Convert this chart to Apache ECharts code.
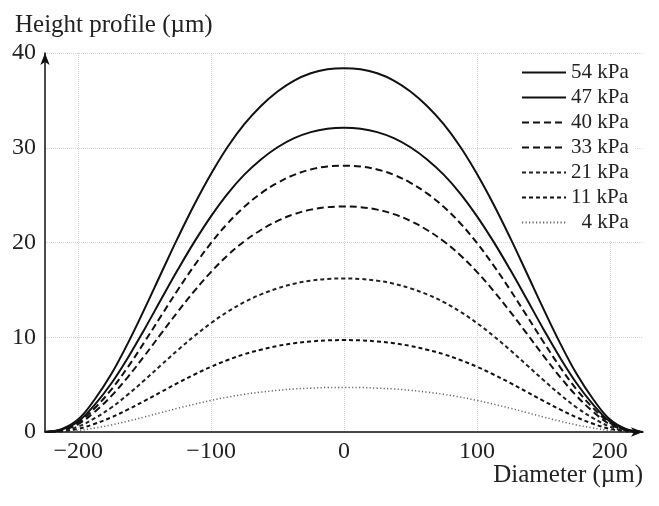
<!DOCTYPE html>
<html>
<head>
<meta charset="utf-8">
<script src="https://cdn.jsdelivr.net/npm/echarts@6/dist/echarts.min.js"></script>
<style>html,body{margin:0;padding:0;background:#fff}#c{width:659px;height:506px}</style>
</head>
<body>
<div id="c"></div>
<script>
const xs = [-225,-212.5,-200,-187.5,-175,-162.5,-150,-137.5,-125,-112.5,-100,-87.5,-75,-62.5,-50,-37.5,-25,-12.5,0,12.5,25,37.5,50,62.5,75,87.5,100,112.5,125,137.5,150,162.5,175,187.5,200,212.5,225];
const seriesNames = ['54 kPa','47 kPa','40 kPa','33 kPa','21 kPa','11 kPa','4 kPa'];
const h54 = [0,0.31,1.34,3.46,6.14,9.41,13.02,16.78,20.51,24.04,27.26,30.11,32.49,34.41,35.94,37.09,37.86,38.28,38.4,38.28,37.86,37.09,35.94,34.41,32.49,30.11,27.26,24.04,20.51,16.78,13.02,9.41,6.14,3.46,1.34,0.31,0];
const h47 = [0,0.26,1.12,2.89,5.14,7.86,10.88,14.03,17.14,20.09,22.79,25.17,27.16,28.76,30.05,31.01,31.65,32.00,32.1,32.00,31.65,31.01,30.05,28.76,27.16,25.17,22.79,20.09,17.14,14.03,10.88,7.86,5.14,2.89,1.12,0.26,0];
const h40 = [0,0.22,0.98,2.53,4.50,6.88,9.53,12.28,15.01,17.59,19.95,22.03,23.77,25.18,26.30,27.14,27.71,28.02,28.1,28.02,27.71,27.14,26.30,25.18,23.77,22.03,19.95,17.59,15.01,12.28,9.53,6.88,4.50,2.53,0.98,0.22,0];
const h33 = [0,0.19,0.83,2.14,3.81,5.83,8.07,10.40,12.71,14.90,16.90,18.66,20.13,21.32,22.28,22.99,23.47,23.73,23.8,23.73,23.47,22.99,22.28,21.32,20.13,18.66,16.90,14.90,12.71,10.40,8.07,5.83,3.81,2.14,0.83,0.19,0];
const h21 = [0,0.13,0.57,1.46,2.59,3.97,5.49,7.08,8.65,10.14,11.50,12.70,13.71,14.52,15.16,15.65,15.97,16.15,16.2,16.15,15.97,15.65,15.16,14.52,13.71,12.70,11.50,10.14,8.65,7.08,5.49,3.97,2.59,1.46,0.57,0.13,0];
const h11 = [0,0.08,0.34,0.87,1.55,2.38,3.29,4.24,5.18,6.07,6.89,7.60,8.21,8.69,9.08,9.37,9.56,9.67,9.7,9.67,9.56,9.37,9.08,8.69,8.21,7.60,6.89,6.07,5.18,4.24,3.29,2.38,1.55,0.87,0.34,0.08,0];
const h4 = [0,0.04,0.16,0.42,0.75,1.15,1.59,2.05,2.51,2.94,3.34,3.68,3.98,4.21,4.40,4.54,4.63,4.69,4.7,4.69,4.63,4.54,4.40,4.21,3.98,3.68,3.34,2.94,2.51,2.05,1.59,1.15,0.75,0.42,0.16,0.04,0];
const xTicks = [-200,-100,0,100,200];

const allVals = [h54,h47,h40,h33,h21,h11,h4];
const styles = [
  {type:'solid', width:2, color:'#111'},
  {type:'solid', width:2, color:'#111'},
  {type:[7,4], width:2, color:'#111'},
  {type:[7,4], width:2, color:'#111'},
  {type:[4,3], width:2, color:'#222'},
  {type:[4,3], width:2, color:'#111'},
  {type:[1.2,2.3], width:1.5, color:'#666'}
];
const FONT = 'Liberation Serif';
const chart = echarts.init(document.getElementById('c'), null, {renderer:'canvas'});
chart.setOption({
  backgroundColor:'#fff',
  animation:false,
  grid:{left:45, right:16, top:53, bottom:74, containLabel:false},
  title:{text:'Height profile (µm)', left:10, top:8, textStyle:{fontFamily:FONT, fontSize:25, fontWeight:'normal', color:'#222'}},
  graphic:[{type:'text', right:16, top:463, style:{text:'Diameter (µm)', font:'25px "Liberation Serif"', fill:'#222'}}],
  legend:{
    orient:'vertical', left:513, top:57, padding:[5,6,8,8],
    backgroundColor:'#fff', itemWidth:44, itemHeight:14, itemGap:4,
    itemStyle:{opacity:0},
    data:seriesNames,
    formatter:n => n === '4 kPa' ? '\u2002' + n : n,
    textStyle:{fontFamily:FONT, fontSize:21, lineHeight:21, color:'#222'}
  },
  xAxis:{
    type:'value', min:-225, max:225,
    axisLine:{show:true, onZero:false, symbol:['none','arrow'], symbolSize:[7,12], lineStyle:{color:'#111', width:1.5}},
    axisTick:{show:false, customValues:xTicks},
    axisLabel:{customValues:xTicks, margin:8, fontFamily:FONT, fontSize:24, color:'#222',
      formatter:v => v < 0 ? '\u2212' + (-v) : String(v)},
    splitLine:{show:true, lineStyle:{type:'dotted', color:'#d4d4d4', width:1}}
  },
  yAxis:{
    type:'value', min:0, max:40, interval:10,
    axisLine:{show:true, onZero:false, symbol:['none','arrow'], symbolSize:[7,12], lineStyle:{color:'#111', width:1.5}},
    axisTick:{show:false},
    axisLabel:{margin:9, fontFamily:FONT, fontSize:24, color:'#222'},
    splitLine:{show:true, lineStyle:{type:'dotted', color:'#d4d4d4', width:1}}
  },
  series: seriesNames.map((name, i) => ({
    name, type:'line', smooth:0.4, showSymbol:false, symbol:'none',
    data: xs.map((x, j) => [x, allVals[i][j]]),
    lineStyle: styles[i], itemStyle:{color: styles[i].color},
    z: 10 - i
  }))
});
</script>
</body>
</html>
